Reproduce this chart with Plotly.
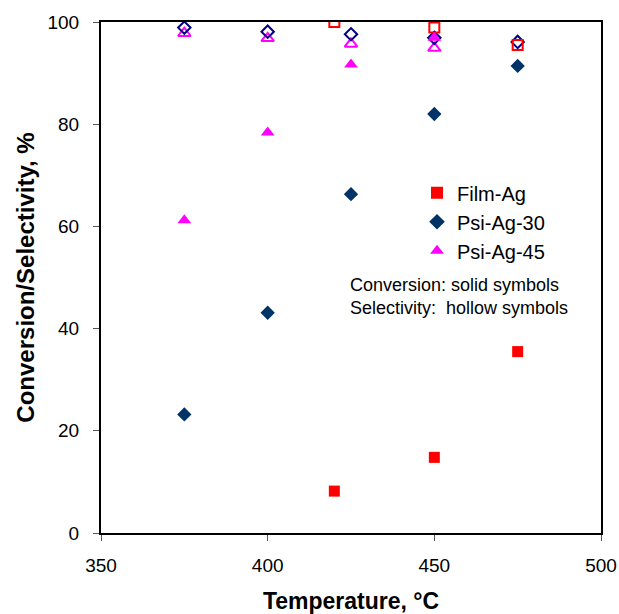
import plotly.graph_objects as go

# Conversion (solid symbols)
film_x = [420, 450, 475]
film_conv = [8.2, 14.8, 35.5]
psi30_x = [375, 400, 425, 450, 475]
psi30_conv = [23.2, 43.1, 66.3, 82.0, 91.4]
psi45_x = [375, 400, 425, 450]
psi45_conv = [61.2, 78.4, 91.7, 96.9]

# Selectivity (hollow symbols)
film_sel_x = [420, 450, 475]
film_sel = [100.0, 98.9, 95.5]
psi30_sel_x = [375, 400, 425, 450, 475]
psi30_sel = [98.9, 98.1, 97.6, 96.9, 96.1]
psi45_sel_x = [375, 400, 425, 450]
psi45_sel = [97.8, 96.8, 95.7, 94.9]

x_ticks = [350, 400, 450, 500]
y_ticks = [0, 20, 40, 60, 80, 100]

RED = "#FF0000"
NAVY = "#003366"
NAVY_H = "#000080"
MAG = "#FF00FF"
FONT = "Liberation Sans, Arial"

fig = go.Figure()
# hollow (selectivity) drawn first
fig.add_trace(go.Scatter(x=psi45_sel_x, y=psi45_sel, mode="markers", showlegend=False,
                         marker=dict(symbol="triangle-up-open", size=11, color=MAG, line=dict(width=2, color=MAG))))
fig.add_trace(go.Scatter(x=psi30_sel_x, y=psi30_sel, mode="markers", showlegend=False,
                         marker=dict(symbol="diamond-open", size=9.5, color=NAVY_H, line=dict(width=2, color=NAVY_H))))
fig.add_trace(go.Scatter(x=film_sel_x, y=film_sel, mode="markers", showlegend=False,
                         marker=dict(symbol="square-open", size=10, color=RED, line=dict(width=2, color=RED))))
# solid (conversion)
fig.add_trace(go.Scatter(x=film_x, y=film_conv, mode="markers", name="Film-Ag",
                         marker=dict(symbol="square", size=11, color=RED)))
fig.add_trace(go.Scatter(x=psi30_x, y=psi30_conv, mode="markers", name="Psi-Ag-30",
                         marker=dict(symbol="diamond", size=11, color=NAVY)))
fig.add_trace(go.Scatter(x=psi45_x, y=psi45_conv, mode="markers", name="Psi-Ag-45",
                         marker=dict(symbol="triangle-up", size=12, color=MAG)))

axis_common = dict(showline=True, linecolor="black", linewidth=2, mirror=True,
                   ticks="outside", ticklen=6, tickcolor="#555555", tickwidth=1,
                   showgrid=False, zeroline=False, automargin=False,
                   tickfont=dict(family=FONT, size=19, color="black"))

fig.update_layout(
    width=619, height=614,
    margin=dict(l=101, r=18, t=22, b=81),
    plot_bgcolor="white", paper_bgcolor="white",
    xaxis=dict(range=[350, 500], tickvals=x_ticks, ticklabelstandoff=8,
               title=dict(text="<b>Temperature, °C</b>", font=dict(family=FONT, size=23, color="black"), standoff=22),
               **axis_common),
    yaxis=dict(range=[0, 100], tickvals=y_ticks, ticklabelstandoff=10,
               title=dict(text="<b>Conversion/Selectivity, %</b>", font=dict(family=FONT, size=24, color="black"), standoff=6),
               **axis_common),
    legend=dict(x=0.632, y=0.704, xanchor="left", yanchor="top",
                font=dict(family=FONT, size=20, color="black"),
                bgcolor="rgba(0,0,0,0)", itemsizing="constant", tracegroupgap=0),
    annotations=[dict(x=0.494, y=0.509, xref="paper", yref="paper", xanchor="left", yanchor="top",
                      align="left", showarrow=False,
                      text="Conversion: solid symbols<br>Selectivity:  hollow symbols",
                      font=dict(family=FONT, size=18, color="black"))],
)

fig.write_html("out.html", config={"displayModeBar": False},
               post_script="document.body.style.margin='0';document.body.style.overflow='hidden';")
